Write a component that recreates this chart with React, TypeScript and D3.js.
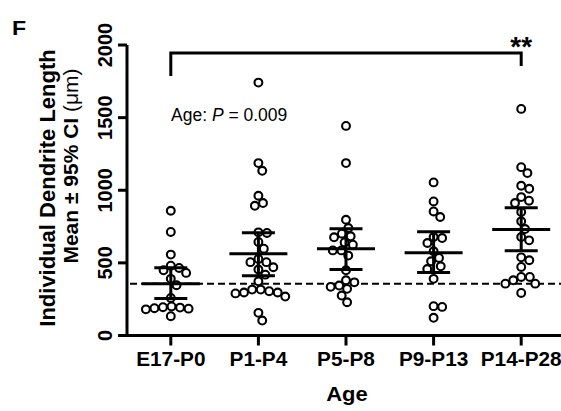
import React from "react";
import * as d3 from "d3";

const categories = ["E17-P0", "P1-P4", "P5-P8", "P9-P13", "P14-P28"];
const e17p0 = [859, 713, 557, 481, 465, 449, 431, 390, 346, 259, 200, 192, 185, 195, 180, 188, 133];
const p1p4 = [1741, 1187, 1134, 962, 912, 893, 710, 706, 644, 598, 527, 505, 505, 470, 454, 419, 373, 316, 305, 296, 290, 268, 296, 316, 156, 103];
const p5p8 = [1443, 1187, 797, 740, 701, 676, 683, 641, 625, 586, 550, 586, 449, 380, 321, 344, 335, 366, 275, 229];
const p9p13 = [1054, 923, 854, 816, 678, 671, 637, 580, 534, 511, 476, 458, 390, 202, 197, 122];
const p14p28 = [1560, 1159, 1118, 1031, 1010, 953, 928, 912, 850, 786, 733, 678, 655, 538, 518, 472, 403, 403, 380, 357, 357, 293];
const seriesValues = [e17p0, p1p4, p5p8, p9p13, p14p28];
const means = [357, 563, 598, 570, 729];
const ciLow = [254, 412, 454, 433, 584];
const ciHigh = [467, 708, 735, 715, 880];
const yTicks = [0, 500, 1000, 1500, 2000];
const referenceLine = 357;

const W = 561;
const H = 411;
const FONT = "Arial, 'Liberation Sans', Helvetica, sans-serif";
const SX = 1.04;

const y = d3.scaleLinear().domain([0, 2000]).range([335.5, 45]);
const x = d3.scalePoint<string>().domain(categories).range([127, 565]).padding(0.5);

function swarm(vals: number[], D: number) {
  const order = vals.map((v) => ({ v, py: y(v) })).sort((a, b) => a.py - b.py);
  const placed: { v: number; py: number; dx: number }[] = [];
  for (const p of order) {
    const cands = [0];
    for (const q of placed) {
      const dy = p.py - q.py;
      if (Math.abs(dy) < D) {
        const dx = Math.sqrt(D * D - dy * dy);
        cands.push(q.dx + dx, q.dx - dx);
      }
    }
    cands.sort((a, b) => Math.abs(a) - Math.abs(b));
    for (const c of cands) {
      if (placed.every((q) => (q.dx - c) ** 2 + (q.py - p.py) ** 2 >= D * D - 0.01)) {
        placed.push({ ...p, dx: c });
        break;
      }
    }
  }
  return placed;
}

export default function App() {
  const axisX = 127;
  const x0 = x(categories[0])!;
  const x4 = x(categories[4])!;
  return (
    <svg width={W} height={H} style={{ position: "absolute", left: 0, top: 0, background: "#fff" }} fontFamily={FONT}>
      <rect width={W} height={H} fill="#fff" />
      <text transform={`translate(12,35) scale(1.1,1)`} fontSize={21} fontWeight="bold">F</text>

      {/* y axis title */}
      <text transform={`translate(55,188) rotate(-90)`} textAnchor="middle" fontSize={22} fontWeight="bold">
        Individual Dendrite Length
      </text>
      <text transform={`translate(78,166) rotate(-90)`} textAnchor="middle" fontSize={21} fontWeight="bold">
        Mean ± 95% CI <tspan fontWeight="normal">(μm)</tspan>
      </text>

      {/* y axis */}
      <line x1={axisX} x2={axisX} y1={y(0) + 1.5} y2={y(2000)} stroke="#000" strokeWidth={3} />
      {yTicks.map((t) => (
        <g key={t}>
          <line x1={axisX - 9} x2={axisX} y1={y(t)} y2={y(t)} stroke="#000" strokeWidth={3} />
          <text transform={`translate(112,${y(t)}) rotate(-90)`} textAnchor="middle" fontSize={20} fontWeight="bold">
            {t}
          </text>
        </g>
      ))}

      {/* x axis */}
      <line x1={axisX} x2={W} y1={y(0)} y2={y(0)} stroke="#000" strokeWidth={3} />
      {categories.map((c) => (
        <g key={c}>
          <line x1={x(c)} x2={x(c)} y1={y(0)} y2={y(0) + 10} stroke="#000" strokeWidth={3} />
          <text transform={`translate(${x(c)},366) scale(${SX},1)`} textAnchor="middle" fontSize={20} fontWeight="bold">
            {c}
          </text>
        </g>
      ))}
      <text transform={`translate(347,401) scale(1.1,1)`} textAnchor="middle" fontSize={20} fontWeight="bold">Age</text>

      {/* reference dashed line */}
      <line x1={axisX + 3} x2={W} y1={y(referenceLine)} y2={y(referenceLine)} stroke="#000" strokeWidth={2} strokeDasharray="7,4" />

      {/* points */}
      {seriesValues.map((vals, i) => {
        const cx = x(categories[i])!;
        return swarm(vals, 8.6).map((p, j) => (
          <circle key={`${i}-${j}`} cx={cx + p.dx} cy={p.py} r={3.9} fill="#fff" stroke="#000" strokeWidth={2.1} />
        ));
      })}

      {/* mean and CI */}
      {categories.map((c, i) => {
        const cx = x(c)!;
        return (
          <g key={c} stroke="#000" strokeWidth={3}>
            <line x1={cx} x2={cx} y1={y(ciLow[i])} y2={y(ciHigh[i])} />
            <line x1={cx - 16.5} x2={cx + 16.5} y1={y(ciLow[i])} y2={y(ciLow[i])} />
            <line x1={cx - 16.5} x2={cx + 16.5} y1={y(ciHigh[i])} y2={y(ciHigh[i])} />
            <line x1={cx - 29} x2={cx + 29} y1={y(means[i])} y2={y(means[i])} />
          </g>
        );
      })}

      {/* significance bracket */}
      <path d={`M${x0},76 V53 H${x4} V66`} fill="none" stroke="#000" strokeWidth={3} />
      <text x={x4} y={56} textAnchor="middle" fontSize={28} fontWeight="bold">**</text>

      <text x={171} y={121} fontSize={17.5}>
        Age: <tspan fontStyle="italic">P</tspan> = 0.009
      </text>
    </svg>
  );
}
